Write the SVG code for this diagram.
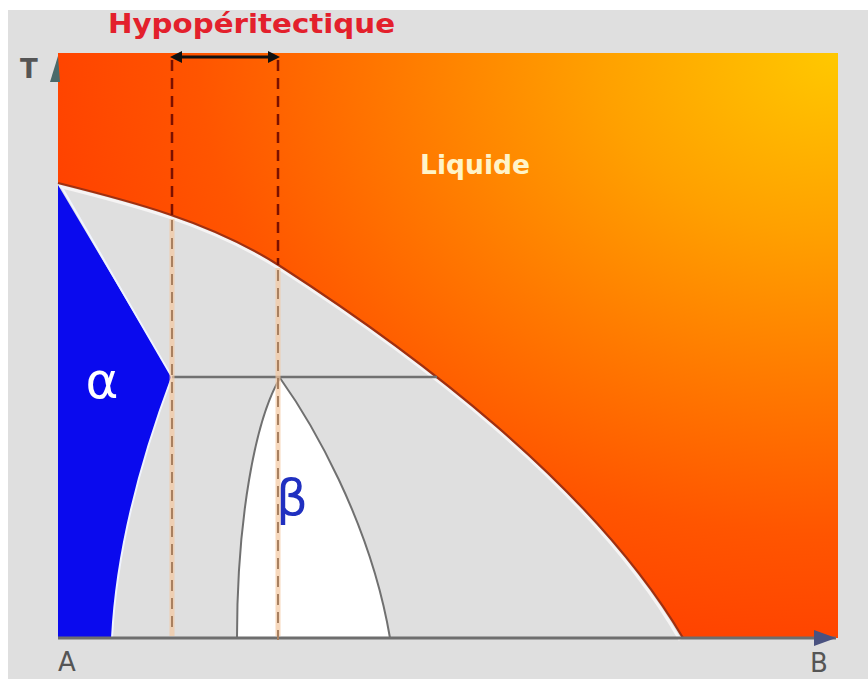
<svg xmlns="http://www.w3.org/2000/svg" width="868" height="679" viewBox="0 0 868 679">
<defs>
<radialGradient id="liq" gradientUnits="userSpaceOnUse" cx="838" cy="55" r="800" gradientTransform="translate(838 55) scale(1 0.75) translate(-838 -55)">
<stop offset="0" stop-color="#ffc800"/>
<stop offset="0.3" stop-color="#ffa000"/>
<stop offset="0.55" stop-color="#ff7a00"/>
<stop offset="0.8" stop-color="#ff5500"/>
<stop offset="1" stop-color="#ff4200"/>
</radialGradient>
<marker id="ah" viewBox="0 0 10 10" refX="5" refY="5" markerWidth="4" markerHeight="4" orient="auto-start-reverse">
<path d="M0,0 L10,5 L0,10 Z" fill="#111"/>
</marker>
<style>
.lbl{font-family:"DejaVu Sans","Liberation Sans",sans-serif;}
.ax{fill:#555;font-size:26px;font-family:"DejaVu Sans","Liberation Sans",sans-serif;}
.edge{fill:none;stroke:#707070;stroke-width:2.5;}
.dk{stroke:#7a1000;stroke-width:2.5;stroke-dasharray:11 7;fill:none;}
.lt{stroke:#a88060;stroke-width:2;stroke-dasharray:11 7;fill:none;}
.lthalo{stroke:#f4c8a0;stroke-width:5;fill:none;opacity:0.7;}
</style>
</defs>
<rect x="0" y="0" width="868" height="679" fill="#ffffff"/>
<rect x="8" y="10" width="860" height="669" fill="#dfdfdf"/>

<g id="liquide">
<path d="M58,53 H838 V638 H683 C593,485 410,350 280,266 C210,221 128,200.5 58,183 Z" fill="url(#liq)"/>
<path d="M58,186 C128,203.5 210,224 280,269 C410,353 593,488 680,640" fill="none" stroke="#f6f4f4" stroke-width="3"/>
<path d="M58,183 C128,200.5 210,221 280,266 C410,350 593,485 683,638" fill="none" stroke="#a03010" stroke-width="2.2"/>
<text class="lbl" x="420" y="174" font-size="26" font-weight="bold" fill="#fff4c8" textLength="110" lengthAdjust="spacingAndGlyphs">Liquide</text>
</g>

<g id="alpha">
<path d="M58,185 L172,377 Q118,520 112,638 L58,638 Z" fill="#0a0aee"/>
<path d="M61,186 L172,377 Q118,520 112,638" fill="none" stroke="#f0f4ff" stroke-width="2"/>
<text class="lbl" x="102" y="398" font-size="50" fill="#ffffff" text-anchor="middle">α</text>
</g>

<g id="beta">
<path d="M237,638 C237,520 255,420 280,378 C310,420 370,520 390,638 Z" fill="#ffffff" stroke="#707070" stroke-width="2"/>
<text class="lbl" x="292" y="515" font-size="50" fill="#2030c0" text-anchor="middle">β</text>
</g>

<g id="connectors">
<line class="edge" x1="172" y1="377" x2="437" y2="377"/>
<line x1="58" y1="638" x2="836" y2="638" stroke="#6e6e6e" stroke-width="3"/>
<line class="lthalo" x1="172" y1="219" x2="172" y2="636"/>
<line class="lthalo" x1="278" y1="268" x2="278" y2="636"/>
<line class="lt" x1="172" y1="220" x2="172" y2="632"/>
<line class="lt" x1="278" y1="270" x2="278" y2="640"/>
<line class="dk" x1="172" y1="60" x2="172" y2="215"/>
<line class="dk" x1="278" y1="60" x2="278" y2="265"/>
<line x1="176" y1="57" x2="274" y2="57" stroke="#111" stroke-width="3" marker-start="url(#ah)" marker-end="url(#ah)"/>
<polygon points="58,56 50,82 60,82" fill="#4a6a6a"/>
<polygon points="836,638 814,630 814,646" fill="#4a5280"/>
</g>

<g id="labels">
<text class="lbl" x="108" y="33" font-size="27" font-weight="bold" fill="#e3202c" textLength="287" lengthAdjust="spacingAndGlyphs">Hypopéritectique</text>
<text class="ax" x="20" y="78" font-weight="bold">T</text>
<text class="ax" x="58" y="671">A</text>
<text class="ax" x="810" y="672">B</text>
</g>
</svg>
